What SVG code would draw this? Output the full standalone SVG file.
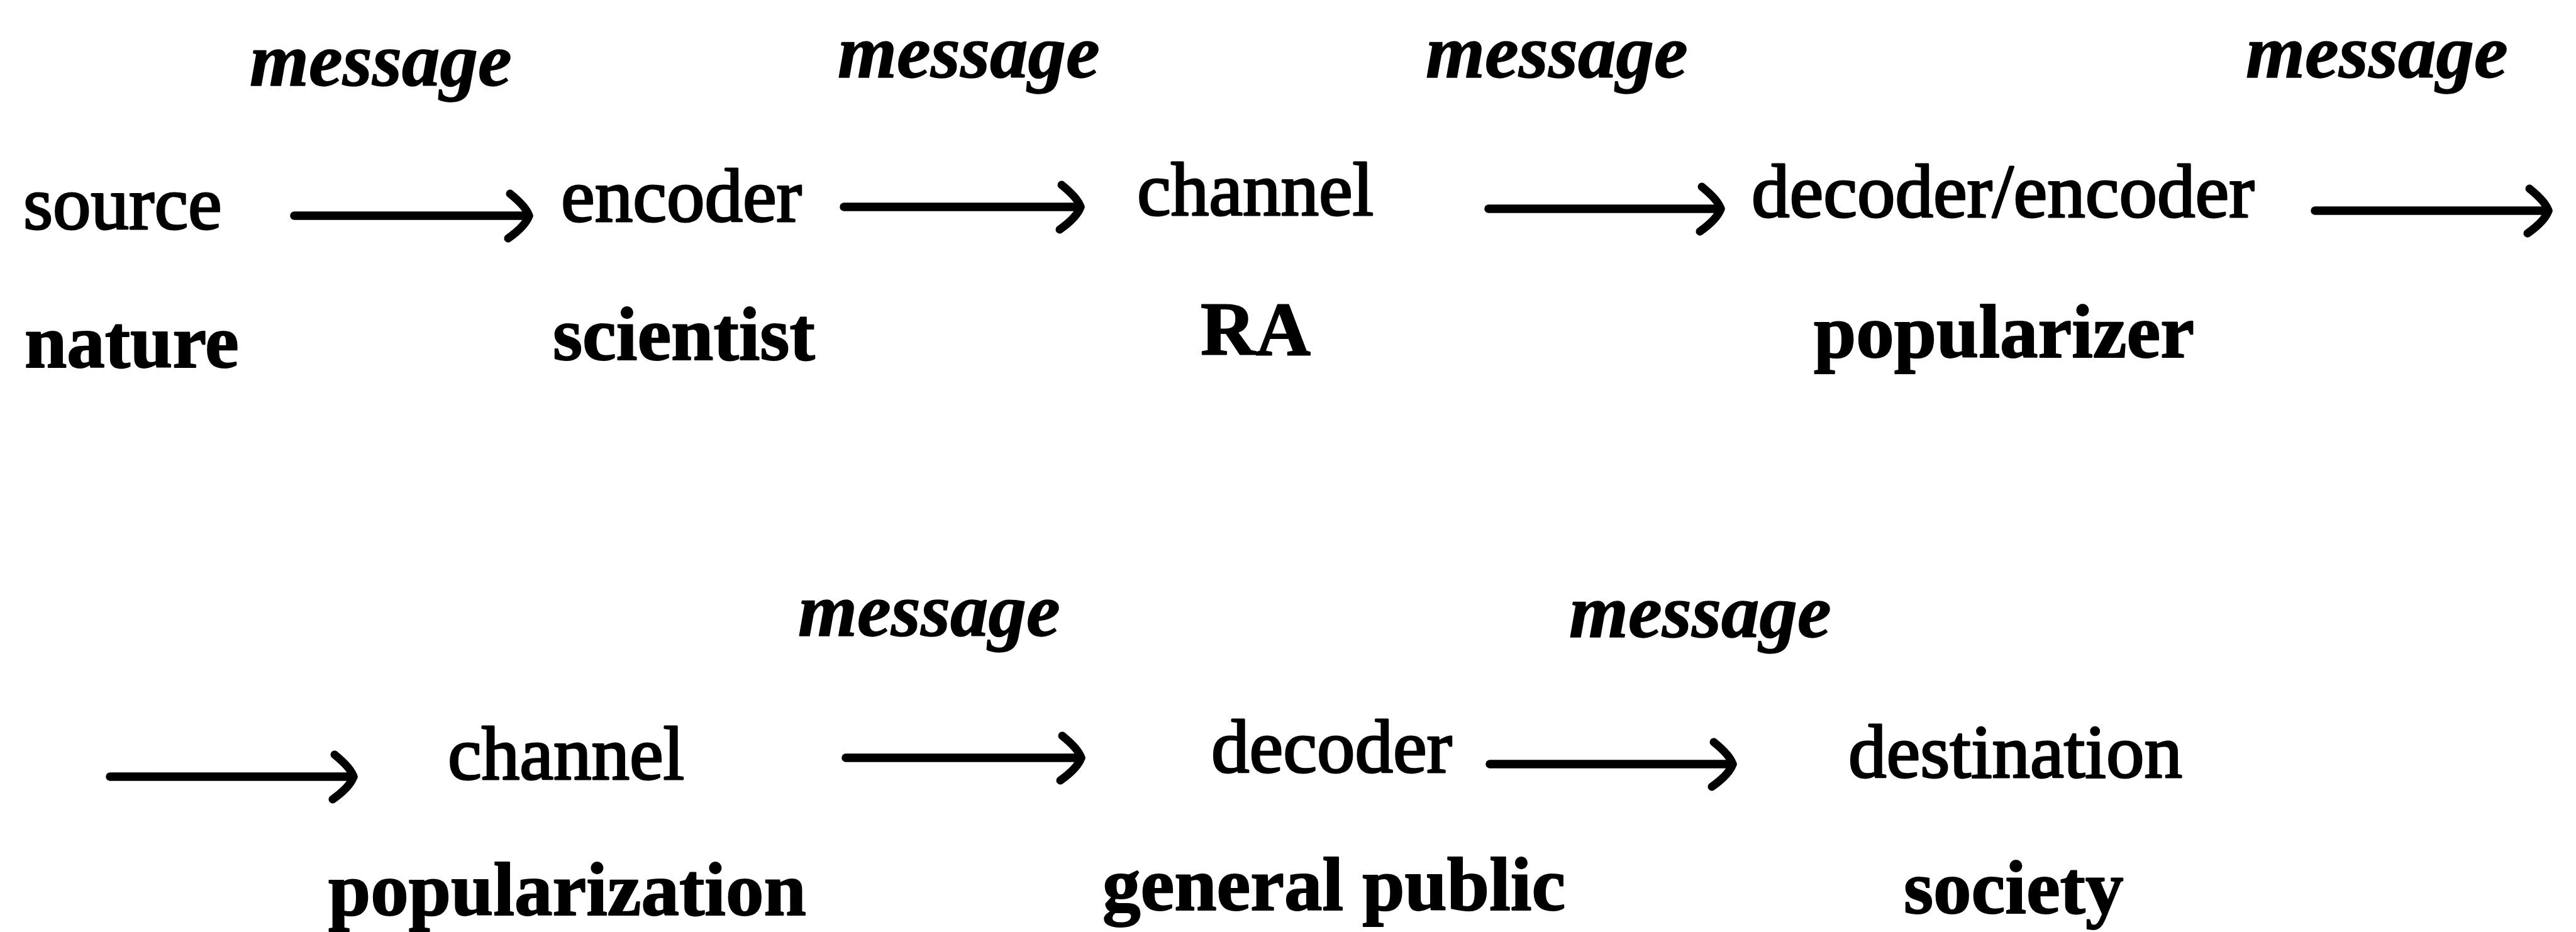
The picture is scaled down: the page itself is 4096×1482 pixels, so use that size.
<svg xmlns="http://www.w3.org/2000/svg" width="4096" height="1482" viewBox="0 0 4096 1482">
  <style>
    text { font-family: "Liberation Serif", "Times New Roman", serif; font-size: 121px; fill: #000; stroke: #000; stroke-linejoin: round; }
    .msg { font-weight: bold; font-style: italic; stroke-width: 1.5px; }
    .role { font-weight: normal; stroke-width: 3px; }
    .actor { font-weight: bold; stroke-width: 2px; }
    .conn { stroke: #000; stroke-width: 13.5; stroke-linecap: round; fill: none; }
  </style>
  <defs>
    <marker id="hook" markerUnits="userSpaceOnUse" viewBox="-45 -45 55 90" refX="0" refY="0" markerWidth="55" markerHeight="90" orient="auto" overflow="visible">
      <path d="M -30,-35 Q -4,-14 0,0 Q -5,16 -33,36" fill="none" stroke="#000" stroke-width="13" stroke-linecap="round" stroke-linejoin="round"/>
    </marker>
  </defs>
  <rect width="4096" height="1482" fill="#fff"/>

  <!-- messages passed between stages -->
  <g id="messages">
    <text class="msg" x="397" y="136">message</text>
    <text class="msg" x="1332" y="123">message</text>
    <text class="msg" x="2267" y="123">message</text>
    <text class="msg" x="3571" y="123">message</text>
    <text class="msg" x="1269" y="1011">message</text>
    <text class="msg" x="2495" y="1013">message</text>
  </g>

  <!-- stages: role over the actor who fills it -->
  <g id="node-source">
    <text class="role" x="37" y="364">source</text>
    <text class="actor" x="39" y="584">nature</text>
  </g>
  <g id="node-encoder">
    <text class="role" x="892" y="352">encoder</text>
    <text class="actor" x="879" y="572">scientist</text>
  </g>
  <g id="node-channel-ra">
    <text class="role" x="1808" y="342">channel</text>
    <text class="actor" x="1909" y="564">RA</text>
  </g>
  <g id="node-decoder-encoder">
    <text class="role" x="2785" y="345">decoder/encoder</text>
    <text class="actor" x="2884" y="568">popularizer</text>
  </g>
  <g id="node-channel-popularization">
    <text class="role" x="712" y="1239">channel</text>
    <text class="actor" x="522" y="1455">popularization</text>
  </g>
  <g id="node-decoder">
    <text class="role" x="1926" y="1228">decoder</text>
    <text class="actor" x="1753" y="1447">general public</text>
  </g>
  <g id="node-destination">
    <text class="role" x="2939" y="1236">destination</text>
    <text class="actor" x="3027" y="1452">society</text>
  </g>

  <!-- connectors -->
  <g id="connectors">
    <line class="conn" x1="468" y1="343" x2="841" y2="343" marker-end="url(#hook)"/>
    <line class="conn" x1="1342" y1="329" x2="1718" y2="329" marker-end="url(#hook)"/>
    <line class="conn" x1="2367" y1="332" x2="2736" y2="332" marker-end="url(#hook)"/>
    <line class="conn" x1="3681" y1="335" x2="4052" y2="335" marker-end="url(#hook)"/>
    <line class="conn" x1="175" y1="1235" x2="562" y2="1235" marker-end="url(#hook)"/>
    <line class="conn" x1="1345" y1="1205" x2="1719" y2="1205" marker-end="url(#hook)"/>
    <line class="conn" x1="2369" y1="1215" x2="2755" y2="1215" marker-end="url(#hook)"/>
  </g>
</svg>
